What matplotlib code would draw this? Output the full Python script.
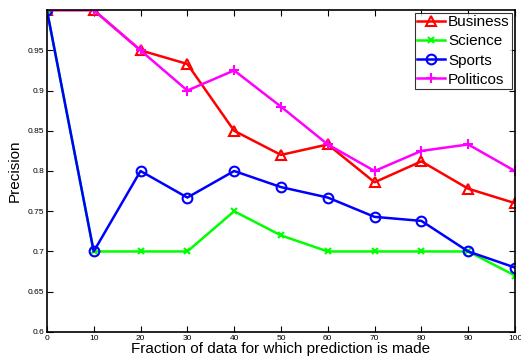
import matplotlib
matplotlib.use("Agg")
import matplotlib.pyplot as plt

plt.rcParams["font.family"] = ["Liberation Sans", "DejaVu Sans"]

fraction = [0, 10, 20, 30, 40, 50, 60, 70, 80, 90, 100]
business = [1.0, 1.0, 0.95, 0.933, 0.85, 0.82, 0.833, 0.786, 0.812, 0.778, 0.76]
science = [1.0, 0.7, 0.7, 0.7, 0.75, 0.72, 0.7, 0.7, 0.7, 0.7, 0.67]
sports = [1.0, 0.7, 0.8, 0.767, 0.8, 0.78, 0.767, 0.743, 0.738, 0.7, 0.68]
politicos = [1.0, 1.0, 0.95, 0.9, 0.925, 0.88, 0.833, 0.8, 0.825, 0.833, 0.8]
yticks = [0.6, 0.65, 0.7, 0.75, 0.8, 0.85, 0.9, 0.95]

fig = plt.figure(figsize=(5.21, 3.6), dpi=100)
ax = fig.add_axes([0.090, 0.078, 0.8985, 0.894])

ax.plot(fraction, business, "-^", color="red", lw=1.8, ms=7, mfc="none", mew=1.5, label="Business")
ax.plot(fraction, science, "-x", color="#00ff00", lw=1.8, ms=4.5, mew=1.5, label="Science")
ax.plot(fraction, sports, "-o", color="blue", lw=1.8, ms=7, mfc="none", mew=1.5, label="Sports")
ax.plot(fraction, politicos, "-+", color="magenta", lw=1.8, ms=7, mew=1.5, label="Politicos")

ax.set_xlim(0, 100)
ax.set_ylim(0.6, 1.0)
ax.set_xticks(fraction)
ax.set_yticks(yticks)
ax.set_yticklabels([f"{v:g}" for v in yticks])
ax.tick_params(direction="in", top=True, right=True, labelsize=6, length=4, pad=2)
for s in ax.spines.values():
    s.set_linewidth(1.2)

ax.set_xlabel("Fraction of data for which prediction is made", fontsize=11, labelpad=0)
ax.set_ylabel("Precision", fontsize=11, labelpad=4)

leg = ax.legend(loc="upper right", fontsize=11, frameon=True, fancybox=False,
                edgecolor="black", borderpad=0.15, labelspacing=0.33,
                handlelength=1.8, handletextpad=0.2, borderaxespad=0.2)
leg.get_frame().set_linewidth(0.8)

fig.savefig("out.png", dpi=100)
